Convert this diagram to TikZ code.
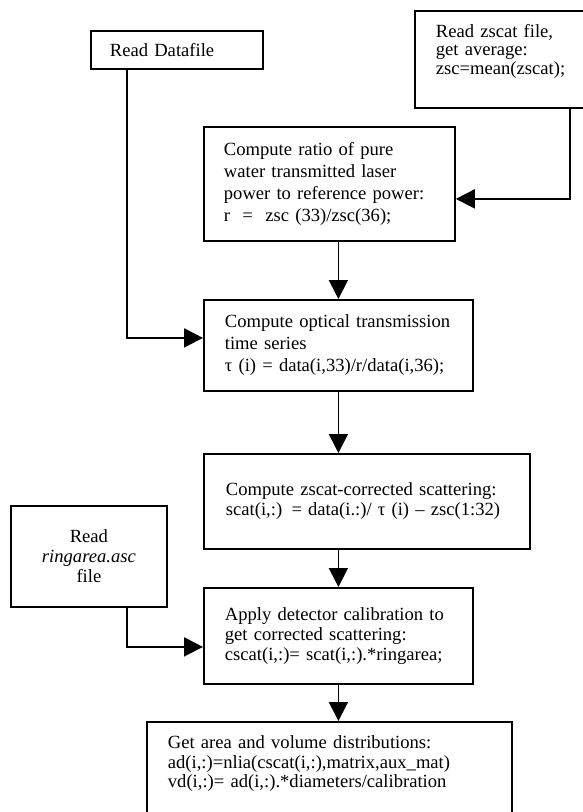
\documentclass[tikz,border=0pt]{standalone}
\usepackage{fontspec}
\setmainfont{Liberation Serif}
\usetikzlibrary{arrows.meta}
\newcommand\deepstrut[1]{\rule[-#1]{0pt}{#1}}

\begin{document}
\begin{tikzpicture}[x=1pt,y=1pt,
  box/.style={draw,line width=1.8pt,anchor=north west,align=left,inner xsep=21pt,inner ysep=0pt,
    font=\fontsize{18.6}{22}\selectfont},
  arr/.style={line width=1.8pt,-{Triangle[length=19pt,width=19pt]}}
]
\useasboundingbox (0,0) rectangle (583,-812);
\node[box,inner xsep=19pt,text width=134pt,minimum height=38pt] (datafile) at (90,-30) {Read Datafile};
\node[box,text width=138pt,minimum height=97pt,font=\fontsize{18.6}{18.5}\selectfont] (zscat) at (414,-10)
  {Read zscat file,\\get average:\\zsc=mean(zscat);\deepstrut{20pt}};
\node[box,inner xsep=20pt,text width=211pt,minimum height=114pt] (ratio) at (203,-126)
  {Compute ratio of pure\\water transmitted laser\\power to reference power:\\r\ \ =\ \ zsc (33)/zsc(36);};
\node[box,text width=227pt,minimum height=91pt] (optical) at (203,-299)
  {Compute optical transmission\\time series\\τ (i) = data(i,33)/r/data(i,36);};
\node[box,inner xsep=22pt,text width=282pt,minimum height=95pt,font=\fontsize{18.6}{20}\selectfont] (zscatcorr) at (203,-453)
  {Compute zscat-corrected scattering:\\scat(i,:) = data(i.:)/ τ (i) – zsc(1:32)};
\node[box,align=center,inner xsep=10pt,text width=136pt,minimum height=101pt,font=\fontsize{18.6}{20}\selectfont] (ringarea) at (10,-505)
  {Read\\\textit{ringarea.asc}\\file};
\node[box,text width=227pt,minimum height=96pt,font=\fontsize{18.6}{20}\selectfont] (calib) at (203,-587)
  {Apply detector calibration to\\get corrected scattering:\\cscat(i,:)= scat(i,:).*ringarea;};
\node[box,text width=323pt,minimum height=100pt,font=\fontsize{18.6}{19.5}\selectfont] (result) at (146,-721)
  {Get area and volume distributions:\\ad(i,:)=nlia(cscat(i,:),matrix,aux\_mat)\\vd(i,:)= ad(i,:).*diameters/calibration\deepstrut{20pt}};

\draw[arr] ([xshift=37pt]datafile.south west) |- ([yshift=7.5pt]optical.west);
\draw[arr] ([xshift=156pt]zscat.south west) |- ([yshift=-15pt]ratio.east);
\draw[arr] (ratio.south -| optical.north) -- (optical.north);
\draw[arr] (optical.south) -- (optical.south |- zscatcorr.north);
\draw[arr] (zscatcorr.south -| calib.north) -- (calib.north);
\draw[arr] ([xshift=117pt]ringarea.south west) |- ([yshift=-11pt]calib.west);
\draw[arr] (calib.south) -- (calib.south |- result.north);
\end{tikzpicture}
\end{document}
